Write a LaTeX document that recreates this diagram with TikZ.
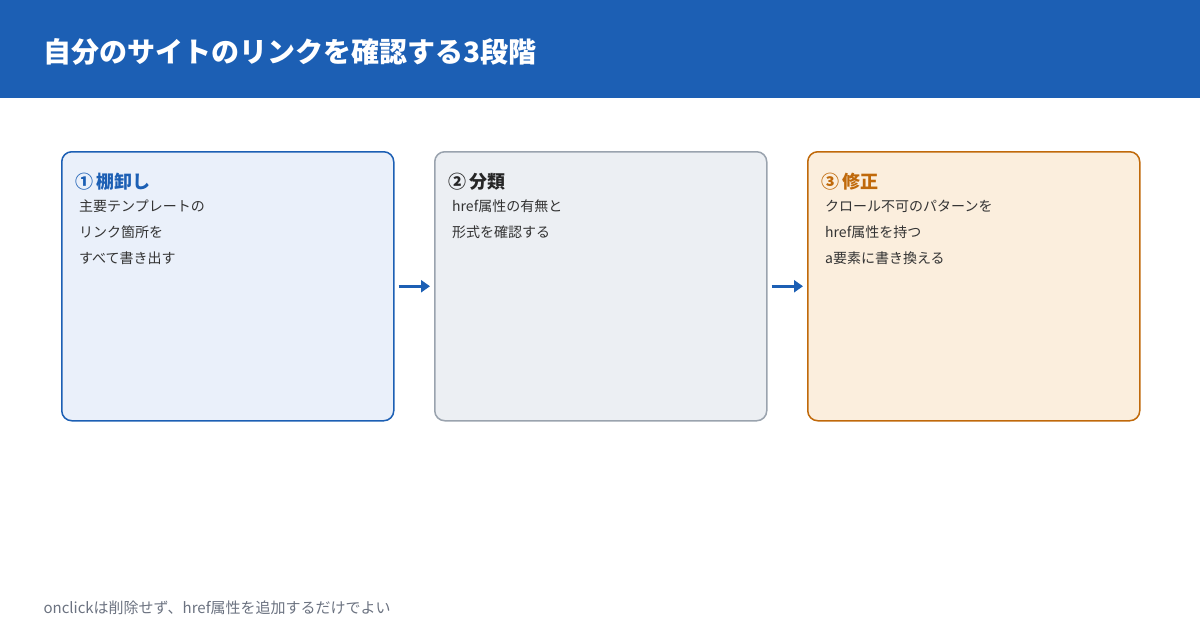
\documentclass[tikz,border=0pt]{standalone}
\usepackage{fontspec}
\setmainfont{Noto Sans CJK JP}
\usetikzlibrary{arrows.meta}
\definecolor{mainblue}{HTML}{1C5FB4}
\definecolor{bluefill}{HTML}{EAF0FA}
\definecolor{graydraw}{HTML}{9AA3AE}
\definecolor{grayfill}{HTML}{ECEFF3}
\definecolor{orangedraw}{HTML}{C0690A}
\definecolor{orangefill}{HTML}{FBEEDD}
\definecolor{bodytext}{HTML}{333333}
\definecolor{notetext}{HTML}{6B7280}
\begin{document}
\begin{tikzpicture}[
        x=1pt, y=-1pt,
        % 段階ボックス
        step_box/.style={
            draw, line width=1.5pt, rounded corners=10pt,
            minimum width=332pt, minimum height=269pt,
            anchor=north west, inner sep=0pt
        },
        % 見出し
        step_title/.style={anchor=west, font=\fontsize{18}{20}\selectfont\bfseries},
        % 本文
        step_body/.style={anchor=north west, align=left, text=bodytext,
            font=\fontsize{14}{26}\selectfont, inner sep=0pt},
        % 矢印
        step_arrow/.style={draw=mainblue, line width=3pt, shorten <=4pt, shorten >=4pt,
            -{Triangle[length=9pt,width=12pt]}}
    ]
        \useasboundingbox (0,0) rectangle (1200,630);
        % ==========================
        % ヘッダー
        % ==========================
        \fill[mainblue] (0,0) rectangle (1200,98);
        \node[anchor=west, text=white, font=\fontsize{28}{32}\selectfont\bfseries] (title) at (40,52) {自分のサイトのリンクを確認する3段階};

        % ==========================
        % ボックス
        % ==========================
        \node[step_box, draw=mainblue, fill=bluefill] (box1) at (61,151) {};
        \node[step_box, draw=graydraw, fill=grayfill] (box2) at (434,151) {};
        \node[step_box, draw=orangedraw, fill=orangefill] (box3) at (807,151) {};

        % 見出しと本文
        \node[step_title, text=mainblue] (t1) at (72,182) {①\,棚卸し};
        \node[step_body] (b1) at (79,200) {主要テンプレートの\\リンク箇所を\\すべて書き出す};
        \node[step_title, text=black!85] (t2) at (445,182) {②\,分類};
        \node[step_body] (b2) at (452,200) {href属性の有無と\\形式を確認する};
        \node[step_title, text=orangedraw] (t3) at (818,182) {③\,修正};
        \node[step_body] (b3) at (825,200) {クロール不可のパターンを\\href属性を持つ\\a要素に書き換える};

        % 矢印
        \draw[step_arrow] (box1.east) -- (box2.west);
        \draw[step_arrow] (box2.east) -- (box3.west);

        % 注記
        \node[anchor=west, text=notetext, font=\fontsize{15}{18}\selectfont] (note) at (40,608) {onclickは削除せず、href属性を追加するだけでよい};
\end{tikzpicture}
\end{document}
